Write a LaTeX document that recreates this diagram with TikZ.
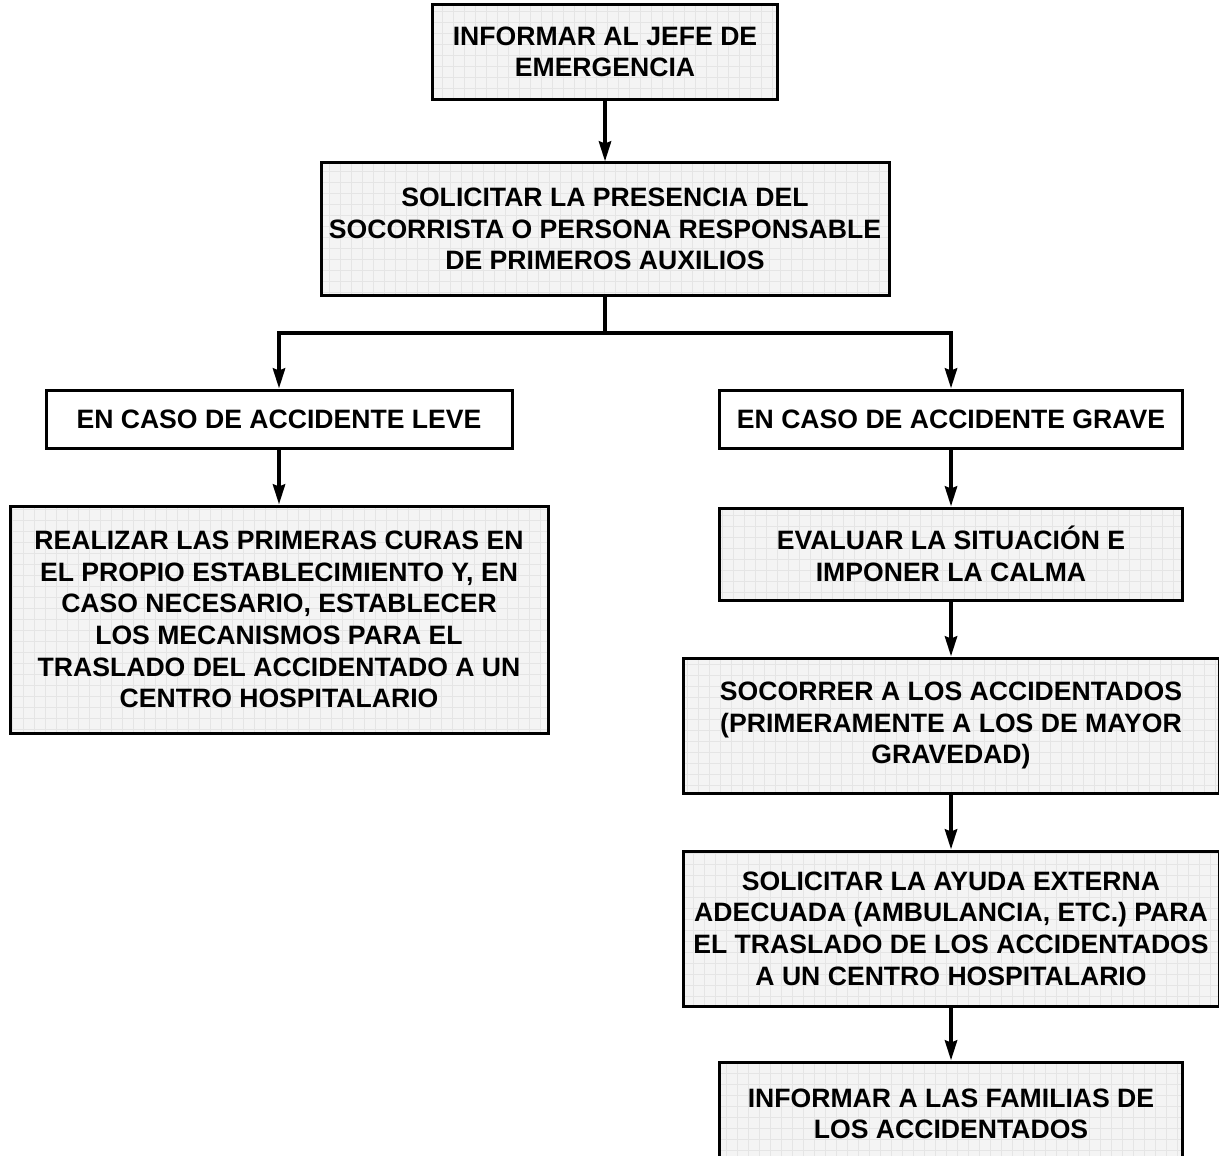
\documentclass[tikz,border=0pt]{standalone}
\usepackage{fontspec}
\setmainfont{Liberation Sans}
\usepackage{tikz}
\usetikzlibrary{arrows.meta,positioning}

\begin{document}
\begin{tikzpicture}[x=0.5pt, y=-0.5pt,
    font=\fontsize{13.3}{15.8}\selectfont\bfseries,
    box/.style={draw, line width=1.5pt, align=center, inner sep=0pt,
      fill=gray!9,
      path picture={\draw[gray!20, line width=0.25pt]
        (path picture bounding box.south west) grid[step=5.5pt]
        (path picture bounding box.north east);}},
    plainbox/.style={draw, line width=1.5pt, align=center, inner sep=0pt, fill=white},
    flow/.style={line width=2pt, -{Stealth[length=10pt, width=6pt, inset=1pt]}}]
    \useasboundingbox (0,0) rectangle (1219,1155);

    % Main trunk
    \node (jefe) at (605,52) [box, minimum width=172.5pt, minimum height=47.5pt]
      {INFORMAR AL JEFE DE\\EMERGENCIA};
    \node (presencia) at (605,229) [box, minimum width=284pt, minimum height=66pt]
      {SOLICITAR LA PRESENCIA DEL\\SOCORRISTA O PERSONA RESPONSABLE\\DE PRIMEROS AUXILIOS};
    \coordinate (split) at (605,333);

    % Minor accident branch
    \node (leve) at (279,419) [plainbox, minimum width=233pt, minimum height=29pt]
      {EN CASO DE ACCIDENTE LEVE};
    \node (curas) at (279,619.5) [box, minimum width=269pt, minimum height=113.5pt]
      {REALIZAR LAS PRIMERAS CURAS EN\\EL PROPIO ESTABLECIMIENTO Y, EN\\CASO NECESARIO, ESTABLECER\\LOS MECANISMOS PARA EL\\TRASLADO DEL ACCIDENTADO A UN\\CENTRO HOSPITALARIO};

    % Serious accident branch
    \node (grave) at (951,419) [plainbox, minimum width=231.5pt, minimum height=29pt]
      {EN CASO DE ACCIDENTE GRAVE};
    \node (evaluar) at (951,554) [box, minimum width=231.5pt, minimum height=46pt]
      {EVALUAR LA SITUACIÓN E\\IMPONER LA CALMA};
    \node (socorrer) at (951,725.5) [box, minimum width=268pt, minimum height=67.5pt]
      {SOCORRER A LOS ACCIDENTADOS\\(PRIMERAMENTE A LOS DE MAYOR\\GRAVEDAD)};
    \node (ayuda) at (951,928.5) [box, minimum width=268pt, minimum height=77.5pt]
      {SOLICITAR LA AYUDA EXTERNA\\ADECUADA (AMBULANCIA, ETC.) PARA\\EL TRASLADO DE LOS ACCIDENTADOS\\A UN CENTRO HOSPITALARIO};
    \node (familias) at (951,1114) [box, minimum width=231.5pt, minimum height=52pt]
      {INFORMAR A LAS FAMILIAS DE\\LOS ACCIDENTADOS};

    % Connectors
    \draw[flow] (jefe) -- (presencia);
    \draw[line width=2pt] (presencia) -- (split);
    \draw[flow] (split) -| (leve);
    \draw[flow] (split) -| (grave);
    \draw[flow] (leve) -- (curas);
    \draw[flow] (grave) -- (evaluar);
    \draw[flow] (evaluar) -- (socorrer);
    \draw[flow] (socorrer) -- (ayuda);
    \draw[flow] (ayuda) -- (familias);
\end{tikzpicture}
\end{document}
